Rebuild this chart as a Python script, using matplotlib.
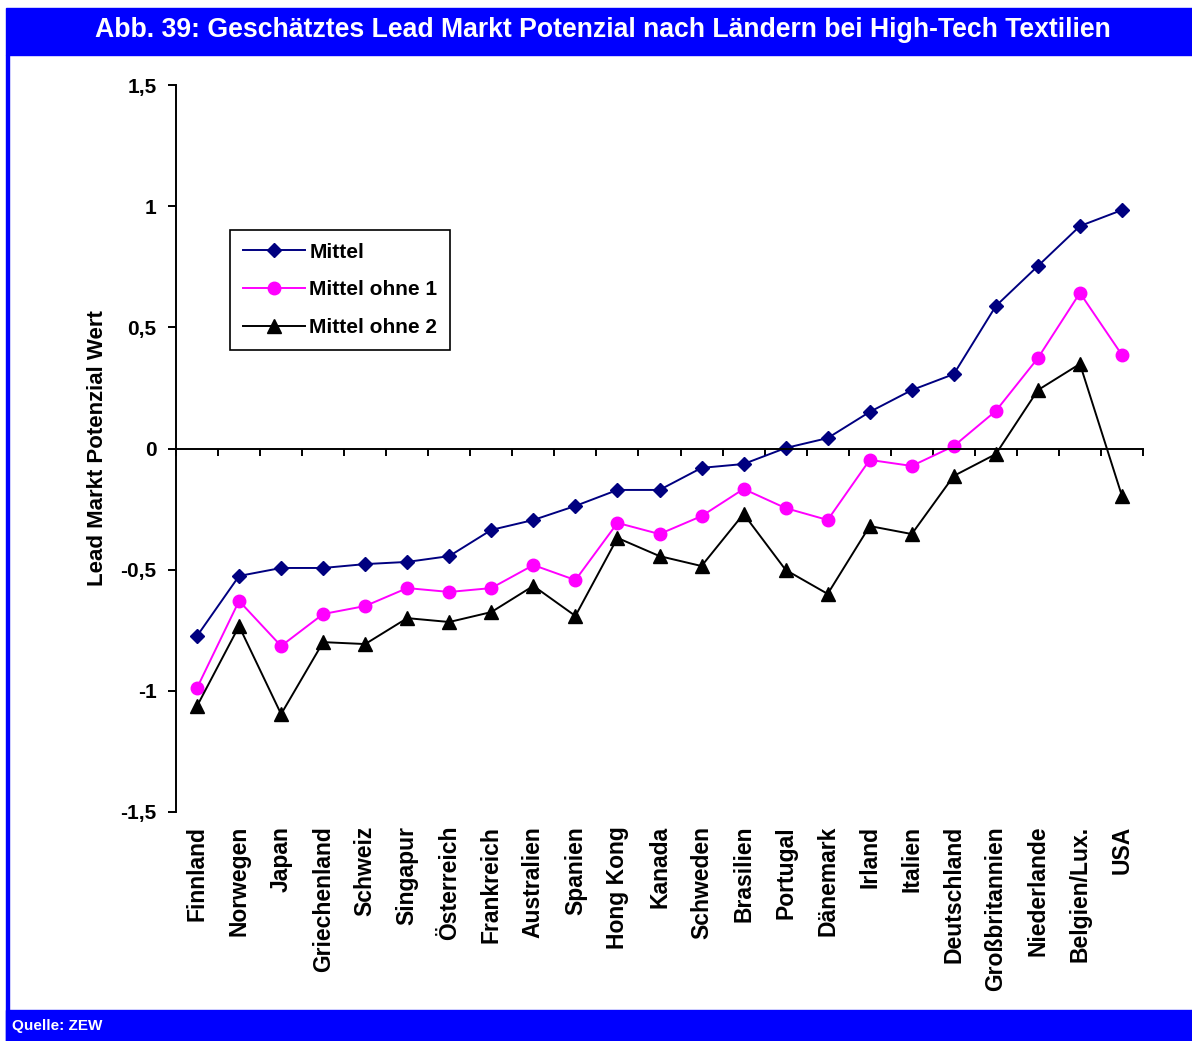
import matplotlib
matplotlib.use("Agg")
import matplotlib.pyplot as plt
from matplotlib.patches import Rectangle

plt.rcParams["font.family"] = ["Liberation Sans", "DejaVu Sans"]
plt.rcParams["font.weight"] = "bold"

# Länder und Indexwerte
laender = ["Finnland", "Norwegen", "Japan", "Griechenland", "Schweiz", "Singapur",
           "Österreich", "Frankreich", "Australien", "Spanien", "Hong Kong", "Kanada",
           "Schweden", "Brasilien", "Portugal", "Dänemark", "Irland", "Italien",
           "Deutschland", "Großbritannien", "Niederlande", "Belgien/Lux.", "USA"]

mittel = [-0.774, -0.526, -0.493, -0.493, -0.477, -0.468, -0.444, -0.336, -0.295,
          -0.237, -0.171, -0.171, -0.080, -0.064, 0.002, 0.043, 0.151, 0.241,
          0.307, 0.588, 0.753, 0.918, 0.984]
mittel_ohne_1 = [-0.988, -0.629, -0.815, -0.683, -0.650, -0.576, -0.592, -0.576, -0.481,
                 -0.543, -0.307, -0.353, -0.279, -0.167, -0.246, -0.295, -0.047, -0.072,
                 0.010, 0.155, 0.373, 0.642, 0.386]
mittel_ohne_2 = [-1.063, -0.733, -1.096, -0.799, -0.807, -0.700, -0.716, -0.675, -0.567,
                 -0.691, -0.369, -0.444, -0.485, -0.270, -0.501, -0.600, -0.320, -0.353,
                 -0.113, -0.023, 0.241, 0.349, -0.196]

y_ticks = [-1.5, -1, -0.5, 0, 0.5, 1, 1.5]
y_labels = ["-1,5", "-1", "-0,5", "0", "0,5", "1", "1,5"]

BLAU = "#0000FF"
FS = 15

fig = plt.figure(figsize=(11.92, 10.41), dpi=100)

# Rahmen: Titelbalken, linke Linie, Quellenbalken
fig.patches.append(Rectangle((6 / 1192, 1 - 55 / 1041), 1, 47 / 1041,
                             transform=fig.transFigure, color=BLAU, zorder=0))
fig.patches.append(Rectangle((6 / 1192, 0), 3 / 1192, 1 - 55 / 1041,
                             transform=fig.transFigure, color=BLAU, zorder=0))
fig.patches.append(Rectangle((6 / 1192, 0), 1, 31 / 1041,
                             transform=fig.transFigure, color=BLAU, zorder=0))
fig.text(603 / 1192, 1 - 30 / 1041,
         "Abb. 39: Geschätztes Lead Markt Potenzial nach Ländern bei High-Tech Textilien",
         color="white", fontsize=19.2, fontweight="bold", ha="center", va="center")
fig.text(12 / 1192, 15 / 1041, "Quelle: ZEW", color="white", fontsize=11,
         fontweight="bold", ha="left", va="center")

ax = fig.add_axes([176 / 1192, 1 - 812 / 1041, 967 / 1192, 727 / 1041])
x = list(range(len(laender)))

ax.plot(x, mittel, color="#000080", marker="D", markersize=7, lw=1.4, label="Mittel")
ax.plot(x, mittel_ohne_1, color="#FF00FF", marker="o", markersize=9, lw=1.4,
        label="Mittel ohne 1")
ax.plot(x, mittel_ohne_2, color="black", marker="^", markersize=10, lw=1.4,
        label="Mittel ohne 2")

ax.set_xlim(-0.5, len(laender) - 0.5)
ax.set_ylim(-1.5, 1.5)

for s in ["top", "right"]:
    ax.spines[s].set_visible(False)
ax.spines["left"].set_linewidth(1.4)
ax.spines["bottom"].set_linewidth(1.4)
ax.spines["bottom"].set_position(("data", 0))

ax.set_yticks(y_ticks)
ax.set_yticklabels(y_labels, fontsize=FS, fontweight="bold")
ax.tick_params(axis="y", direction="out", length=6, width=1.4, pad=8)

# Teilstriche zwischen den Kategorien auf der Nulllinie
ax.set_xticks([i - 0.5 for i in range(len(laender) + 1)])
ax.set_xticklabels([])
ax.tick_params(axis="x", direction="out", length=5, width=1.4)

# Ländernamen am unteren Rand
sec = ax.secondary_xaxis(0)
sec.set_xticks(x)
sec.set_xticklabels(laender, rotation=90, fontsize=16.5, fontweight="bold")
sec.tick_params(length=0, pad=10)
sec.spines["bottom"].set_visible(False)

ax.set_ylabel("Lead Markt Potenzial Wert", fontsize=16, fontweight="bold", labelpad=9)

leg = ax.legend(loc="upper left", bbox_to_anchor=((230 - 176) / 967, (812 - 230) / 727),
                borderaxespad=0, fancybox=False, framealpha=1, edgecolor="black",
                prop={"size": FS, "weight": "bold"}, handlelength=3.0,
                handletextpad=0.2, borderpad=0.6, labelspacing=0.9)
leg.get_frame().set_linewidth(1.2)

fig.savefig("out.png", dpi=100)
